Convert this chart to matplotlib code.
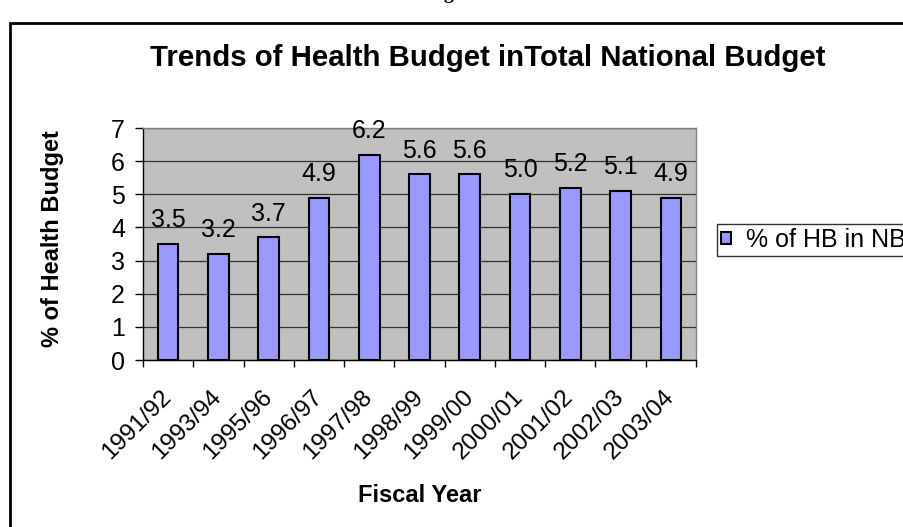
import matplotlib
matplotlib.use("Agg")
import matplotlib.pyplot as plt
from matplotlib.patches import Rectangle
import numpy as np

plt.rcParams['font.family'] = ['Liberation Sans', 'DejaVu Sans']

years = ["1991/92", "1993/94", "1995/96", "1996/97", "1997/98", "1998/99",
         "1999/00", "2000/01", "2001/02", "2002/03", "2003/04"]
values = [3.5, 3.2, 3.7, 4.9, 6.2, 5.6, 5.6, 5.0, 5.2, 5.1, 4.9]
labels = ["3.5", "3.2", "3.7", "4.9", "6.2", "5.6", "5.6", "5.0", "5.2", "5.1", "4.9"]

W, H = 904, 527
fig = plt.figure(figsize=(W / 100, H / 100), dpi=100)
fig.patch.set_facecolor("white")

# outer chart border (cut off at right and bottom)
fig.patches.append(Rectangle((9.5 / W, -0.2), 1.2, 0.2 + (1 - 22.5 / H),
                             transform=fig.transFigure, fill=False,
                             edgecolor="black", linewidth=2, clip_on=False))
# partial caption text cut at top edge
fig.text(448 / W, 1.0 + 1 / H, "g", ha="center", va="baseline",
         fontsize=14, fontweight="bold", family="Liberation Serif")

ax = fig.add_axes([143 / W, 1 - 360 / H, (696 - 143) / W, (360 - 128) / H])
ax.set_facecolor("#C0C0C0")
x = np.arange(len(years))
ax.bar(x, values, width=0.41, color="#9999FF", edgecolor="black",
       linewidth=1.5, zorder=3, label="% of HB in NB")
for xi, v, lab in zip(x, values, labels):
    ax.annotate(lab, (xi, v), xytext=(0, 8.5), textcoords="offset points",
                ha="center", va="bottom", fontsize=18)

ax.set_xlim(-0.5, len(years) - 0.5)
ax.set_ylim(0, 7)
ax.set_yticks(range(0, 8))
ax.yaxis.grid(True, color="#333333", linewidth=0.9, zorder=1)
ax.set_axisbelow(True)
ax.tick_params(axis="y", labelsize=18, length=6, width=1, direction="out", pad=7)

ax.set_xticks(x)
ax.set_xticklabels(years, rotation=45, ha="right", va="center",
                   rotation_mode="anchor", fontsize=17.5)
ax.set_xticks(np.arange(-0.5, len(years)), minor=True)
ax.tick_params(axis="x", which="major", length=0, pad=24)
ax.tick_params(axis="x", which="minor", length=5, width=1, direction="out")

for s in ["top", "right"]:
    ax.spines[s].set_color("#808080")
    ax.spines[s].set_linewidth(1)
for s in ["left", "bottom"]:
    ax.spines[s].set_color("black")
    ax.spines[s].set_linewidth(1)

ax.set_ylabel("% of Health Budget", fontsize=17, fontweight="bold")
ax.yaxis.set_label_coords((64 - 143) / (696 - 143), 0.5 + 5 / 232)
ax.set_xlabel("Fiscal Year", fontsize=17, fontweight="bold")
ax.xaxis.set_label_coords(0.5, (360 - 484) / (360 - 128))

fig.text(488 / W, 1 - 58 / H, "Trends of Health Budget inTotal National Budget",
         ha="center", va="center", fontsize=21.2, fontweight="bold")

leg = fig.legend(loc="upper left", bbox_to_anchor=(717 / W, 1 - 224 / H),
                 frameon=True, fancybox=False, fontsize=18, handlelength=0.4,
                 handleheight=0.4, handletextpad=0.6, borderpad=0.15,
                 borderaxespad=0)
leg.get_frame().set_edgecolor("black")
leg.get_frame().set_linewidth(1)

fig.savefig("out.png", dpi=100)
